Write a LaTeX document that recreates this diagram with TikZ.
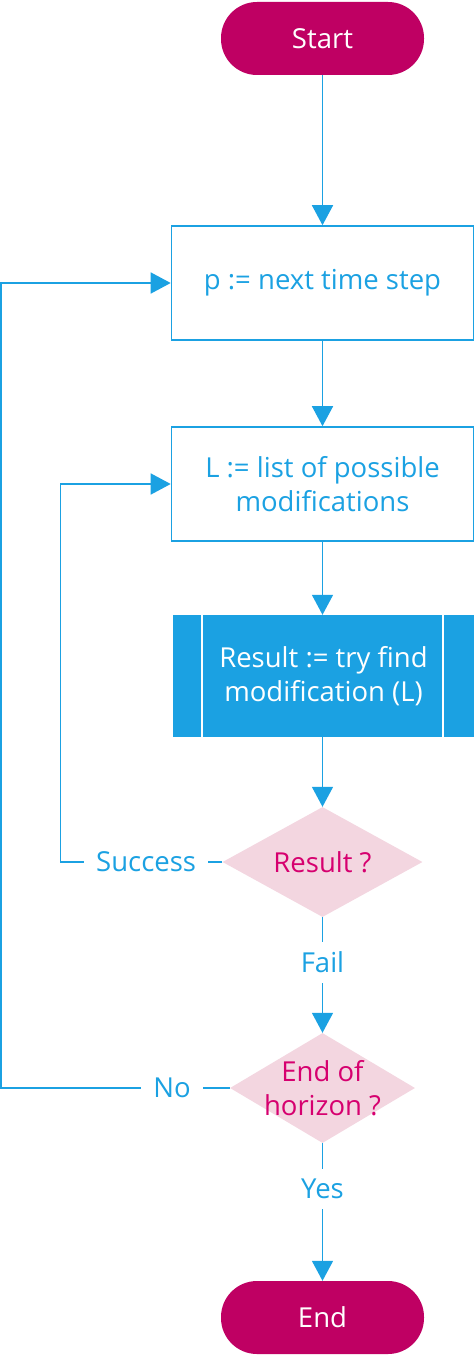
\documentclass[tikz,border=0pt]{standalone}
\usepackage{fontspec}
\setmainfont{Open Sans}
\usetikzlibrary{arrows.meta,shapes.geometric}
\definecolor{flowblue}{RGB}{27,161,226}
\definecolor{termmag}{RGB}{191,0,99}
\definecolor{decfill}{RGB}{243,214,224}
\definecolor{dectext}{RGB}{214,0,111}
\tikzset{
  txt/.style={font=\fontsize{27.5bp}{34bp}\selectfont, align=center},
  term/.style={txt, rectangle, rounded corners=36bp, fill=termmag, text=white,
    minimum width=203bp, minimum height=73bp, inner sep=0pt},
  procbox/.style={txt, rectangle, draw=flowblue, line width=1.6bp, text=flowblue,
    minimum width=302bp, minimum height=114bp, inner sep=0pt},
  predef/.style={txt, rectangle, fill=flowblue, text=white,
    minimum width=301bp, minimum height=122bp, inner sep=0pt},
  decision/.style={diamond, fill=decfill, inner sep=0pt},
  dectxt/.style={txt, text=dectext, inner sep=0pt},
  conn/.style={draw=flowblue, line width=1.6bp},
  arr/.style={conn, -{Triangle[width=21bp,length=20bp]}},
  lbl/.style={txt, text=flowblue, fill=white, inner xsep=12bp, inner ysep=10bp}
}
\begin{document}
\begin{tikzpicture}[x=1bp,y=-1bp]
\useasboundingbox (0,0) rectangle (474,1357);
\node[term] (start) at (322.5,38.5) {Start};
\node[procbox] (b1) at (322.5,283) {p := next time step};
\node[procbox] (b2) at (322.5,484) {L := list of possible\\modifications};
\node[predef] (b3) at (323.5,676) {Result := try find\\modification (L)};
\coordinate (b3l) at (202,615);
\coordinate (b3lb) at (202,737);
\coordinate (b3r) at (443,615);
\coordinate (b3rb) at (443,737);
\draw[white, line width=2bp] (b3l) -- (b3lb) (b3r) -- (b3rb);
\node[decision, minimum width=200bp, minimum height=110bp] (d1) at (322.5,862) {};
\node[dectxt] (d1t) at (d1.center) {Result ?};
\node[decision, minimum width=185bp, minimum height=110bp] (d2) at (322.5,1088) {};
\node[dectxt] (d2t) at (d2.center) {End of\\horizon ?};
\node[term] (end) at (322.5,1317.5) {End};

\draw[arr] (start.south) -- (b1.north);
\draw[arr] (b1.south) -- (b2.north);
\draw[arr] (b2.south) -- (b2.south |- b3.north);
\draw[arr] (b2.south |- b3.south) -- (d1.north);
\draw[arr] (d1.south) -- node[lbl, pos=0.39] (lfail) {Fail} (d2.north);
\draw[arr] (d2.south) -- node[lbl, pos=0.33] (lyes) {Yes} (end.north);
\draw[arr] (d1.west) -- node[lbl, pos=0.47] (lsucc) {Success} ++(-162,0) |- (b2.west);
\draw[arr] (d2.west) -- node[lbl, pos=0.253] (lno) {No} ++(-228.5,0) |- (b1.west);
\end{tikzpicture}
\end{document}
